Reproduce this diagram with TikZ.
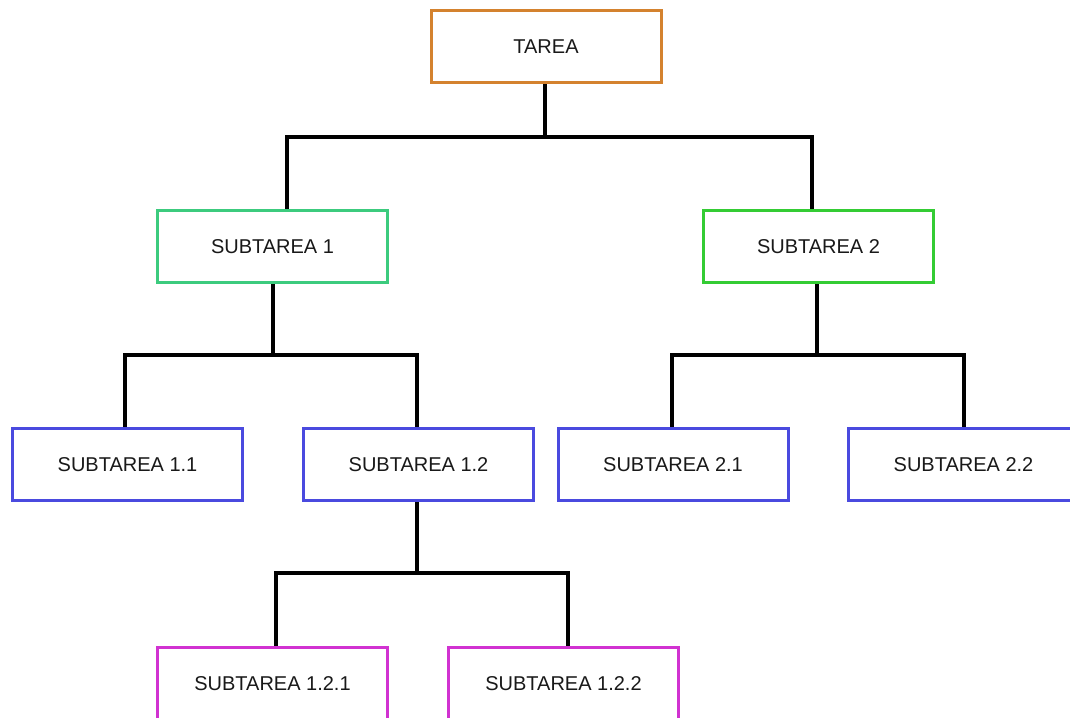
\documentclass[tikz,border=0pt]{standalone}
\usepackage{fontspec}
\setmainfont{Liberation Sans}
\begin{document}
\begin{tikzpicture}[x=1pt,y=-1pt,
  task/.style={draw, line width=3pt, fill=white, minimum width=230pt, minimum height=72pt,
    inner sep=0pt, font=\fontsize{20}{24}\selectfont, text=black!90},
  link/.style={draw=black, line width=3.2pt}]
\definecolor{toporange}{HTML}{D4822E}
\definecolor{tealgreen}{HTML}{3CCB7E}
\definecolor{brightgreen}{HTML}{34CC34}
\definecolor{taskblue}{HTML}{4A4ADF}
\definecolor{taskmagenta}{HTML}{D132D1}
\useasboundingbox (0,0) rectangle (1070,717);
\clip (0,0) rectangle (1070,717);
\fill[white] (0,0) rectangle (1070,717);

% tree nodes
\node[task, draw=toporange]   (t)    at (546,46.5)    {TAREA};
\node[task, draw=tealgreen]   (s1)   at (272.5,246.5) {SUBTAREA 1};
\node[task, draw=brightgreen] (s2)   at (818.5,246.5) {SUBTAREA 2};
\node[task, draw=taskblue]    (s11)  at (127.5,464.5) {SUBTAREA 1.1};
\node[task, draw=taskblue]    (s12)  at (418.5,464.5) {SUBTAREA 1.2};
\node[task, draw=taskblue]    (s21)  at (673,464.5)   {SUBTAREA 2.1};
\node[task, draw=taskblue]    (s22)  at (963.5,464.5) {SUBTAREA 2.2};
\node[task, draw=taskmagenta] (s121) at (272.5,683.5) {SUBTAREA 1.2.1};
\node[task, draw=taskmagenta] (s122) at (563.5,683.5) {SUBTAREA 1.2.2};

% junction points of the elbow connectors
\coordinate (j0) at (545,137);
\coordinate (j1) at (273,355);
\coordinate (j2) at (817,355);
\coordinate (j3) at (417,573);

\draw[link] (t.south -| j0) -- (j0);
\draw[link] (j0) -| ([xshift=14.5pt]s1.north);
\draw[link] (j0) -| ([xshift=-6.5pt]s2.north);

\draw[link] (s1.south -| j1) -- (j1);
\draw[link] (j1) -| ([xshift=-2.5pt]s11.north);
\draw[link] (j1) -| ([xshift=-1.5pt]s12.north);

\draw[link] (s2.south -| j2) -- (j2);
\draw[link] (j2) -| ([xshift=-1pt]s21.north);
\draw[link] (j2) -| ([xshift=0.5pt]s22.north);

\draw[link] (s12.south -| j3) -- (j3);
\draw[link] (j3) -| ([xshift=3.5pt]s121.north);
\draw[link] (j3) -| ([xshift=4.5pt]s122.north);
\end{tikzpicture}
\end{document}
